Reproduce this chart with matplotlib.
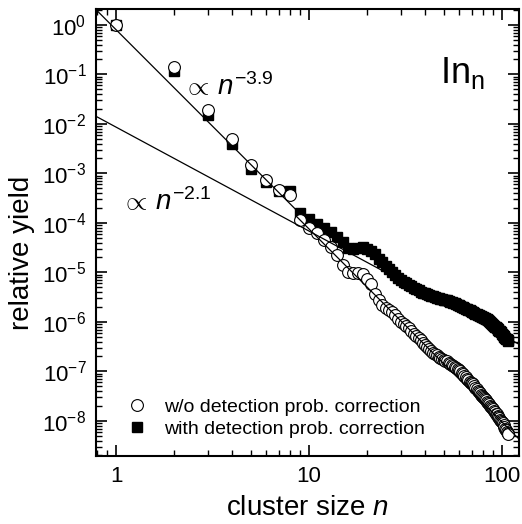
import matplotlib.pyplot as plt
import numpy as np
from matplotlib import ticker

# cluster sizes n = 1 .. 108
cluster_n = np.arange(1, 109)

# relative yield without detection probability correction (open circles)
yield_raw = [
    1.0, 0.14, 0.019, 4.9e-3, 1.45e-3, 7.4e-4, 4.6e-4, 3.7e-4, 1.15e-4, 7.8e-5,
    6.3e-5, 4.5e-5, 3.3e-5, 2.2e-5, 1.4e-5, 1.0e-5, 9.8e-6, 9.6e-6, 9.3e-6, 7.5e-6,
    5.8e-6, 3.6e-6, 2.8e-6, 2.2e-6, 1.9e-6, 1.75e-6, 1.6e-6, 1.35e-6, 1.15e-6, 1.0e-6,
    9.0e-7, 8.2e-7, 7.4e-7, 6.6e-7, 5.8e-7, 5.2e-7, 4.7e-7, 4.2e-7, 3.8e-7, 3.4e-7,
    3.1e-7, 2.8e-7, 2.6e-7, 2.4e-7, 2.25e-7, 2.1e-7, 1.95e-7, 1.85e-7, 1.75e-7, 1.7e-7,
    1.65e-7, 1.6e-7, 1.5e-7, 1.42e-7, 1.35e-7, 1.28e-7, 1.2e-7, 1.15e-7, 1.1e-7, 1.06e-7,
    1.0e-7, 9.4e-8, 8.8e-8, 8.2e-8, 7.6e-8, 7.1e-8, 6.6e-8, 6.2e-8, 5.9e-8, 5.7e-8,
    5.5e-8, 5.1e-8, 4.7e-8, 4.4e-8, 4.1e-8, 3.8e-8, 3.6e-8, 3.4e-8, 3.2e-8, 3.0e-8,
    2.85e-8, 2.7e-8, 2.6e-8, 2.45e-8, 2.3e-8, 2.15e-8, 2.0e-8, 1.9e-8, 1.8e-8, 1.7e-8,
    1.6e-8, 1.5e-8, 1.4e-8, 1.35e-8, 1.28e-8, 1.2e-8, 1.12e-8, 1.05e-8, 1.0e-8, 9.4e-9,
    9.0e-9, 8.2e-9, 7.5e-9, 7.0e-9, 6.4e-9, 6.0e-9, 5.6e-9, 5.3e-9,
]

# relative yield with detection probability correction (filled squares)
yield_corr = [
    0.98, 0.118, 0.0152, 3.9e-3, 1.2e-3, 6.6e-4, 4.3e-4, 4.3e-4, 1.6e-4, 1.2e-4,
    9.5e-5, 8.0e-5, 6.5e-5, 5.2e-5, 4.2e-5, 3.1e-5, 2.9e-5, 3.1e-5, 3.3e-5, 3.0e-5,
    2.7e-5, 2.3e-5, 1.9e-5, 1.6e-5, 1.35e-5, 1.15e-5, 1.0e-5, 8.8e-6, 7.8e-6, 7.0e-6,
    6.5e-6, 6.0e-6, 5.6e-6, 5.2e-6, 4.9e-6, 4.6e-6, 4.4e-6, 4.1e-6, 3.9e-6, 3.8e-6,
    3.7e-6, 3.5e-6, 3.4e-6, 3.3e-6, 3.2e-6, 3.1e-6, 3.0e-6, 2.9e-6, 2.85e-6, 2.8e-6,
    2.75e-6, 2.7e-6, 2.6e-6, 2.55e-6, 2.5e-6, 2.4e-6, 2.35e-6, 2.3e-6, 2.2e-6, 2.15e-6,
    2.1e-6, 2.0e-6, 1.95e-6, 1.9e-6, 1.85e-6, 1.8e-6, 1.75e-6, 1.7e-6, 1.65e-6, 1.6e-6,
    1.55e-6, 1.5e-6, 1.46e-6, 1.42e-6, 1.38e-6, 1.35e-6, 1.32e-6, 1.3e-6, 1.27e-6, 1.25e-6,
    1.21e-6, 1.18e-6, 1.15e-6, 1.12e-6, 1.08e-6, 1.05e-6, 1.0e-6, 9.5e-7, 9.2e-7, 8.8e-7,
    8.4e-7, 8.0e-7, 7.7e-7, 7.4e-7, 7.1e-7, 6.9e-7, 6.6e-7, 6.4e-7, 6.1e-7, 5.8e-7,
    5.5e-7, 5.2e-7, 5.0e-7, 4.7e-7, 4.5e-7, 4.4e-7, 4.2e-7, 4.1e-7,
]

# power-law guide lines: (amplitude, exponent, n_start, n_end)
fit_small = (0.8, -3.9, 0.79, 8.6)
fit_shallow = (8.6e-3, -2.1, 0.79, 126)
fit_large = (0.6, -3.9, 8.6, 126)

plt.rcParams['font.family'] = ['Liberation Sans', 'DejaVu Sans']
plt.rcParams['mathtext.fontset'] = 'custom'
plt.rcParams['mathtext.rm'] = 'Liberation Sans'
plt.rcParams['mathtext.it'] = 'Liberation Sans:italic'
plt.rcParams['mathtext.bf'] = 'Liberation Sans:bold'
plt.rcParams['axes.unicode_minus'] = False

fig = plt.figure(figsize=(5.22, 5.24), dpi=100)
ax = fig.add_axes([0.184, 0.130, 0.810, 0.853])

sq, = ax.plot(cluster_n, yield_corr, ls='none', marker='s', ms=7.5,
              mfc='black', mec='black', zorder=3)
circ, = ax.plot(cluster_n, yield_raw, ls='none', marker='o', ms=8.5,
                mfc='white', mec='black', mew=0.8, zorder=4)

for amp, expo, n0, n1 in (fit_small, fit_shallow, fit_large):
    xs = np.array([n0, n1])
    ax.plot(xs, amp * xs ** expo, color='black', lw=0.9, zorder=5)

ax.set_xscale('log')
ax.set_yscale('log')
ax.set_xlim(0.788, 122.5)
ax.set_ylim(1.96e-9, 2.1)

ax.xaxis.set_major_locator(ticker.LogLocator(base=10, numticks=10))
ax.xaxis.set_minor_locator(ticker.LogLocator(base=10, subs=np.arange(2, 10), numticks=20))
ax.xaxis.set_major_formatter(ticker.FuncFormatter(lambda v, p: f'{v:g}'))
ax.xaxis.set_minor_formatter(ticker.NullFormatter())
ax.yaxis.set_major_locator(ticker.LogLocator(base=10, numticks=20))
ax.yaxis.set_minor_locator(ticker.LogLocator(base=10, subs=np.arange(2, 10), numticks=20))
ax.yaxis.set_minor_formatter(ticker.NullFormatter())

ax.tick_params(which='both', direction='in', top=True, right=True)
ax.tick_params(which='major', length=8, width=1.2, labelsize=16, pad=7)
ax.tick_params(which='minor', length=4, width=1.0)
for s in ax.spines.values():
    s.set_linewidth(1.5)

ax.set_xlabel('cluster size $\\mathit{n}$', fontsize=20)
ax.xaxis.set_label_coords(0.5, -0.088)
ax.set_ylabel('relative yield', fontsize=20)
ax.yaxis.set_label_coords(-0.145, 0.454)

ax.text(0.205, 0.808, r'$\propto\,\mathit{n}^{-3.9}$', transform=ax.transAxes,
        fontsize=20, va='baseline')
ax.text(0.060, 0.55, r'$\propto\,\mathit{n}^{-2.1}$', transform=ax.transAxes,
        fontsize=20, va='baseline')
ax.text(0.813, 0.834, r'$\mathrm{In}_{\mathrm{n}}$', transform=ax.transAxes,
        fontsize=26, va='baseline')

ax.legend([circ, sq], ['w/o detection prob. correction', 'with detection prob. correction'],
          loc='lower left', bbox_to_anchor=(0.055, 0.022), frameon=False, fontsize=14,
          handlelength=1.0, handletextpad=0.9, labelspacing=0.25, borderaxespad=0)

fig.savefig('out.png', dpi=100)
